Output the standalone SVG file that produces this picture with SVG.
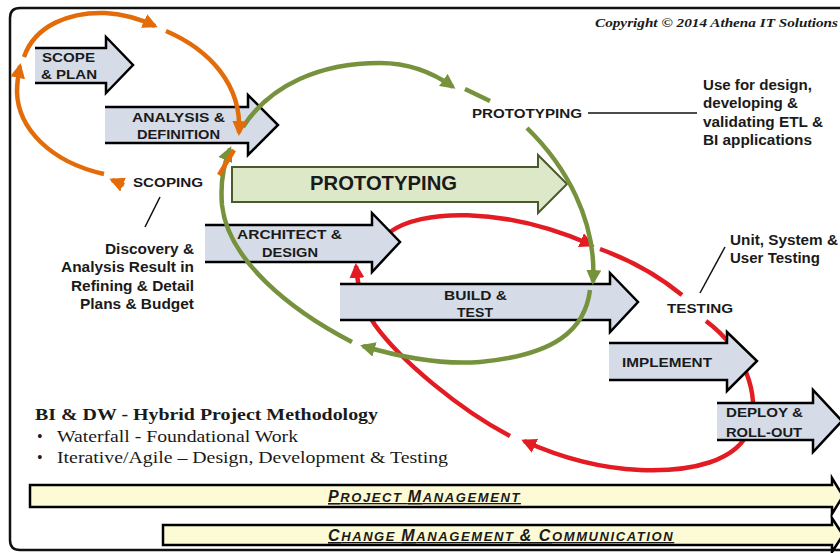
<svg xmlns="http://www.w3.org/2000/svg" width="840" height="553" viewBox="0 0 840 553">
<defs>
<style>
.blk{fill:#d5dce8;stroke:#000;stroke-width:2.5;stroke-linejoin:miter}
.bar{fill:#fdfbd6;stroke:#000;stroke-width:2.5;stroke-linejoin:miter}
.b{font-family:"Liberation Sans",Arial,sans-serif;font-weight:bold;font-size:13px;fill:#1a1a1a}
.n{font-family:"Liberation Sans",Arial,sans-serif;font-weight:bold;font-size:14px;fill:#1a1a1a}
.s{font-family:"Liberation Serif","Times New Roman",serif;fill:#1a1a1a}
.pm{font-family:"Liberation Sans",Arial,sans-serif;font-weight:bold;font-style:italic;fill:#1a1a1a;text-decoration:underline;letter-spacing:1.6px}
.or{fill:none;stroke:#e36c09;stroke-width:4.5}
.gr{fill:none;stroke:#76923c;stroke-width:4.5}
.rd{fill:none;stroke:#e31b23;stroke-width:4.5}
.ld{stroke:#111;stroke-width:1.5}
</style>
<marker id="mo" viewBox="0 0 10 10" refX="8" refY="5" markerWidth="15" markerHeight="15" markerUnits="userSpaceOnUse" orient="auto"><path d="M0,0 L10,5 L0,10 Z" fill="#e36c09"/></marker>
<marker id="mg" viewBox="0 0 10 10" refX="8" refY="5" markerWidth="15" markerHeight="15" markerUnits="userSpaceOnUse" orient="auto"><path d="M0,0 L10,5 L0,10 Z" fill="#76923c"/></marker>
<marker id="mr" viewBox="0 0 10 10" refX="8" refY="5" markerWidth="15" markerHeight="15" markerUnits="userSpaceOnUse" orient="auto"><path d="M0,0 L10,5 L0,10 Z" fill="#e31b23"/></marker>
</defs>
<rect width="840" height="553" fill="#fff"/>
<g id="frame"><path d="M850,8 L20,8 Q10,8 10,18 L10,540 Q10,550 20,550 L850,550" fill="#fff" stroke="#111" stroke-width="2.5"/></g>

<g id="connectors-back">
<path class="rd" d="M390,232 C420,210 500,205 592,245" marker-end="url(#mr)"/>
<path class="rd" d="M600,249 C625,258 655,273 682,295"/>
<path class="rd" d="M706,321 C745,350 760,395 750,428 C738,462 690,472 640,470 C595,468 555,455 524,441" marker-end="url(#mr)"/>
<path class="rd" d="M510,436 C460,410 400,360 375,325 C365,310 358,292 356,266" marker-end="url(#mr)"/>
</g>

<g id="scope-plan"><path class="blk" d="M35,83 L106,83 L106,93 L133,65 L106,37 L106,48 L35,48"/>
<text class="b" x="42" y="62" textLength="53" lengthAdjust="spacingAndGlyphs">SCOPE</text>
<text class="b" x="41" y="79" textLength="56" lengthAdjust="spacingAndGlyphs">&amp; PLAN</text></g>

<g id="analysis-definition"><path class="blk" d="M105,143 L248,143 L248,155 L278,125 L248,95 L248,107 L105,107"/>
<text class="b" x="132" y="122" textLength="93" lengthAdjust="spacingAndGlyphs">ANALYSIS &amp;</text>
<text class="b" x="137" y="139" textLength="83" lengthAdjust="spacingAndGlyphs">DEFINITION</text></g>

<g id="prototyping-phase"><path d="M232,167 L538,167 L538,155 L567,184 L538,213 L538,202 L232,202 Z" fill="#dde8c8" stroke="#4a5a2a" stroke-width="2"/>
<text class="b" x="310" y="190" textLength="147" lengthAdjust="spacingAndGlyphs" style="font-size:21px">PROTOTYPING</text></g>

<g id="architect-design"><path class="blk" d="M205,262 L372,262 L372,272 L400,242 L372,213 L372,225 L205,225"/>
<text class="b" x="237" y="239" textLength="105" lengthAdjust="spacingAndGlyphs">ARCHITECT &amp;</text>
<text class="b" x="262" y="257" textLength="56" lengthAdjust="spacingAndGlyphs">DESIGN</text></g>

<g id="build-test"><path class="blk" d="M340,320 L610,320 L610,332 L638,302 L610,273 L610,284 L340,284"/>
<text class="b" x="444" y="300" textLength="63" lengthAdjust="spacingAndGlyphs">BUILD &amp;</text>
<text class="b" x="457" y="317" textLength="36" lengthAdjust="spacingAndGlyphs">TEST</text></g>

<g id="implement"><path class="blk" d="M609,380 L727,380 L727,391 L757,361 L727,332 L727,343 L609,343"/>
<text class="b" x="622" y="367" textLength="90" lengthAdjust="spacingAndGlyphs">IMPLEMENT</text></g>

<g id="deploy-rollout"><path class="blk" d="M717,440 L813,440 L813,452 L842,421 L813,390 L813,403 L717,403"/>
<text class="b" x="726" y="417" textLength="77" lengthAdjust="spacingAndGlyphs">DEPLOY &amp;</text>
<text class="b" x="726" y="437" textLength="76" lengthAdjust="spacingAndGlyphs">ROLL-OUT</text></g>

<g id="connectors">
<path class="gr" d="M243,127 C270,85 320,63 380,63 C410,63 435,74 453,87" marker-end="url(#mg)"/>
<path class="gr" d="M465,89 L490,101"/>
<path class="gr" d="M527,128 C565,165 597,220 593,282" marker-end="url(#mg)"/>
<path class="gr" d="M590,290 C585,330 555,355 480,362 C440,365 400,357 363,346" marker-end="url(#mg)"/>
<path class="gr" d="M352,342 C290,310 228,260 222,205 C220,180 224,163 230,149" marker-end="url(#mg)"/>
<path class="or" d="M24,57 C35,25 70,12 105,13 C125,14 140,19 155,26" marker-end="url(#mo)"/>
<path class="or" d="M166,31 C210,50 242,85 239,133" marker-end="url(#mo)"/>
<path class="or" d="M234,150 L219,175"/>
<path class="or" d="M124,185 L112,180" marker-end="url(#mo)"/>
<path class="or" d="M104,174 C50,162 18,128 17,92 C17,84 18,76 20,66" marker-end="url(#mo)"/>
<line class="ld" x1="588" y1="113" x2="697" y2="113"/>
<line class="ld" x1="160" y1="197" x2="145" y2="227"/>
<line class="ld" x1="700" y1="293" x2="725" y2="247"/>
</g>

<g id="scoping"><text class="b" x="133" y="187" textLength="70" lengthAdjust="spacingAndGlyphs">SCOPING</text></g>
<g id="prototyping"><text class="b" x="472" y="118" textLength="110" lengthAdjust="spacingAndGlyphs">PROTOTYPING</text></g>
<g id="testing"><text class="b" x="667" y="313" textLength="66" lengthAdjust="spacingAndGlyphs">TESTING</text></g>

<g id="prototyping-note">
<text class="n" x="703" y="90" textLength="109" lengthAdjust="spacingAndGlyphs">Use for design,</text>
<text class="n" x="703" y="108" textLength="95" lengthAdjust="spacingAndGlyphs">developing &amp;</text>
<text class="n" x="703" y="127" textLength="120" lengthAdjust="spacingAndGlyphs">validating ETL &amp;</text>
<text class="n" x="703" y="145" textLength="109" lengthAdjust="spacingAndGlyphs">BI applications</text>
</g>
<g id="scoping-note">
<text class="n" x="105" y="254" textLength="89" lengthAdjust="spacingAndGlyphs">Discovery &amp;</text>
<text class="n" x="61" y="272" textLength="133" lengthAdjust="spacingAndGlyphs">Analysis Result in</text>
<text class="n" x="71" y="291" textLength="123" lengthAdjust="spacingAndGlyphs">Refining &amp; Detail</text>
<text class="n" x="80" y="309" textLength="114" lengthAdjust="spacingAndGlyphs">Plans &amp; Budget</text>
</g>
<g id="testing-note">
<text class="n" x="730" y="245" textLength="108" lengthAdjust="spacingAndGlyphs">Unit, System &amp;</text>
<text class="n" x="730" y="263" textLength="90" lengthAdjust="spacingAndGlyphs">User Testing</text>
</g>

<g id="copyright"><text class="s" x="595" y="27" font-weight="bold" font-style="italic" font-size="12" textLength="243" lengthAdjust="spacingAndGlyphs">Copyright © 2014 Athena IT Solutions</text></g>

<g id="legend">
<text class="s" x="35" y="420" font-weight="bold" font-size="17" textLength="343" lengthAdjust="spacingAndGlyphs">BI &amp; DW - Hybrid Project Methodology</text>
<text class="s" x="37" y="442" font-size="16">•</text>
<text class="s" x="57" y="442" font-size="16" textLength="241" lengthAdjust="spacingAndGlyphs">Waterfall - Foundational Work</text>
<text class="s" x="37" y="463" font-size="16">•</text>
<text class="s" x="57" y="463" font-size="16" textLength="391" lengthAdjust="spacingAndGlyphs">Iterative/Agile – Design, Development &amp; Testing</text>
</g>

<g id="project-management"><path class="bar" d="M30,485 L832,485 L832,478 L843,496 L832,514 L832,507 L30,507 Z"/>
<text class="pm" x="328" y="502"><tspan font-size="16">P</tspan><tspan font-size="13">ROJECT </tspan><tspan font-size="16">M</tspan><tspan font-size="13">ANAGEMENT</tspan></text></g>
<g id="change-management"><path class="bar" d="M163,525 L832,525 L832,518 L843,535 L832,552 L832,545 L163,545 Z"/>
<text class="pm" x="328" y="541"><tspan font-size="16">C</tspan><tspan font-size="13">HANGE </tspan><tspan font-size="16">M</tspan><tspan font-size="13">ANAGEMENT </tspan><tspan font-size="16">&amp; C</tspan><tspan font-size="13">OMMUNICATION</tspan></text></g>
</svg>
